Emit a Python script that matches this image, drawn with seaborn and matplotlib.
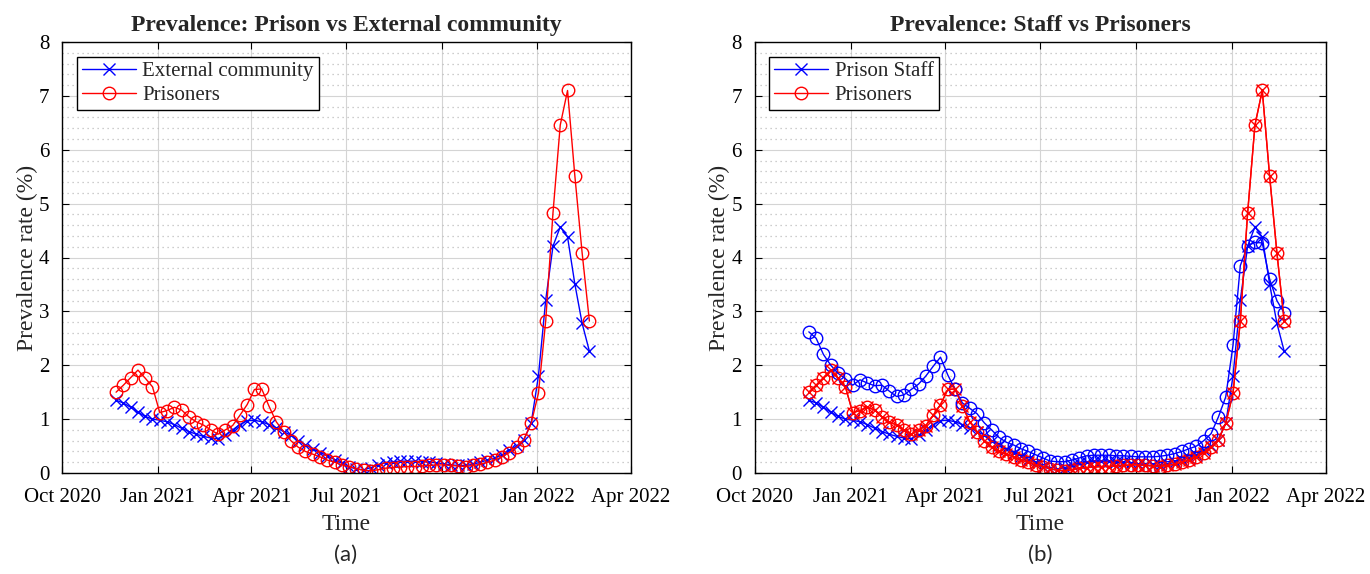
#! /usr/bin/env python3
import pandas as pd
import matplotlib
matplotlib.use("Agg")
import matplotlib.pyplot as plt
import matplotlib.dates as mdates
import seaborn as sns

# weekly samples, 22 Nov 2020 .. 20 Feb 2022
dates = pd.date_range("2020-11-22", periods=66, freq="7D")

external = [1.35, 1.30, 1.22, 1.13, 1.05, 1.00, 0.98, 0.95, 0.90, 0.83,
            0.77, 0.72, 0.68, 0.65, 0.64, 0.70, 0.80, 0.90, 0.97, 0.98,
            0.95, 0.90, 0.84, 0.77, 0.70, 0.60, 0.52, 0.45, 0.38, 0.32,
            0.25, 0.18, 0.12, 0.07, 0.06, 0.10, 0.15, 0.19, 0.21, 0.22,
            0.22, 0.22, 0.21, 0.20, 0.19, 0.17, 0.15, 0.14, 0.14, 0.16,
            0.20, 0.24, 0.28, 0.33, 0.42, 0.50, 0.62, 0.92, 1.80, 3.21,
            4.21, 4.57, 4.38, 3.51, 2.78, 2.26]

prisoners = [1.50, 1.63, 1.77, 1.91, 1.76, 1.60, 1.12, 1.16, 1.22, 1.17,
             1.04, 0.95, 0.89, 0.80, 0.72, 0.80, 0.88, 1.07, 1.27, 1.55,
             1.56, 1.24, 0.95, 0.77, 0.60, 0.48, 0.40, 0.35, 0.30, 0.24,
             0.20, 0.15, 0.12, 0.08, 0.05, 0.04, 0.06, 0.09, 0.10, 0.11,
             0.12, 0.12, 0.13, 0.14, 0.15, 0.15, 0.14, 0.13, 0.12, 0.14,
             0.16, 0.20, 0.24, 0.30, 0.38, 0.48, 0.62, 0.92, 1.48, 2.82,
             4.83, 6.46, 7.10, 5.52, 4.09, 2.82]

staff = [2.62, 2.50, 2.20, 2.00, 1.85, 1.75, 1.63, 1.73, 1.67, 1.62,
         1.63, 1.52, 1.42, 1.45, 1.55, 1.65, 1.80, 1.98, 2.15, 1.82,
         1.55, 1.30, 1.20, 1.10, 0.93, 0.80, 0.66, 0.57, 0.52, 0.45,
         0.40, 0.34, 0.28, 0.22, 0.21, 0.21, 0.24, 0.28, 0.32, 0.33,
         0.33, 0.33, 0.32, 0.32, 0.31, 0.30, 0.30, 0.30, 0.31, 0.33,
         0.36, 0.40, 0.45, 0.50, 0.60, 0.73, 1.04, 1.41, 2.37, 3.85,
         4.22, 4.28, 4.27, 3.60, 3.20, 2.97]

tick_dates = ["2020-10-01", "2021-01-01", "2021-04-01", "2021-07-01",
              "2021-10-01", "2022-01-01", "2022-04-01"]

SERIF = ["Liberation Serif", "DejaVu Serif"]

sns.set_theme(style="ticks")
plt.rcParams["font.family"] = SERIF
plt.rcParams["axes.edgecolor"] = "black"

df = pd.DataFrame({"date": dates, "external": external,
                   "prisoners": prisoners, "staff": staff})

fig = plt.figure(figsize=(13.7, 5.74), dpi=100)
ax_a = fig.add_axes([62 / 1370, 101 / 574, 569 / 1370, 431 / 574])
ax_b = fig.add_axes([754.5 / 1370, 101 / 574, 571.5 / 1370, 431 / 574])

mk = dict(linewidth=1.0, markersize=9, markeredgewidth=1.0)


def draw(ax, col, color, marker, label):
    sns.lineplot(data=df, x="date", y=col, ax=ax, color=color, marker=marker,
                 markerfacecolor="none", markeredgecolor=color, label=label,
                 legend=False, **mk)


# (a)
draw(ax_a, "external", "blue", "x", "External community")
draw(ax_a, "prisoners", "red", "o", "Prisoners")

# (b)
draw(ax_b, "external", "blue", "x", "Prison Staff")
draw(ax_b, "prisoners", "red", "o", "Prisoners")
draw(ax_b, "staff", "blue", "o", "_nolegend_")
draw(ax_b, "prisoners", "red", "x", "_nolegend_")

titles = ["Prevalence: Prison vs External community", "Prevalence: Staff vs Prisoners"]
for ax, title in zip([ax_a, ax_b], titles):
    ax.set_xlim(pd.Timestamp("2020-10-01"), pd.Timestamp("2022-04-01"))
    ax.set_ylim(0, 8)
    ax.set_xticks(pd.to_datetime(tick_dates))
    ax.xaxis.set_major_formatter(mdates.DateFormatter("%b %Y"))
    ax.set_yticks(range(0, 9))
    ax.set_yticks([i * 0.2 for i in range(41)], minor=True)
    ax.grid(True, which="major", color="#d4d4d4", linewidth=0.8)
    ax.grid(True, which="minor", axis="y", color="#bdbdbd", linewidth=0.9,
            linestyle=(0, (1, 3)))
    ax.set_axisbelow(True)
    ax.tick_params(which="major", direction="in", top=True, right=True,
                   length=5, width=0.8, labelsize=15, colors="black")
    ax.tick_params(axis="x", which="major", pad=11)
    ax.tick_params(axis="y", which="major", pad=9)
    ax.tick_params(which="minor", length=0)
    for s in ax.spines.values():
        s.set_linewidth(1.0)
        s.set_color("black")
    ax.set_xlabel("Time", fontsize=17, labelpad=5)
    ax.set_ylabel("Prevalence rate (%)", fontsize=17, labelpad=1)
    ax.set_title(title, fontsize=17, fontweight="bold", pad=8)
    leg = ax.legend(loc="upper left", fontsize=15, fancybox=False, framealpha=1,
                    edgecolor="black", handlelength=2.6, borderaxespad=0.7,
                    borderpad=0.25, labelspacing=0.2, handletextpad=0.3)
    leg.get_frame().set_linewidth(1.0)

fig.text(346 / 1370, 1 - 555 / 574, "(a)", ha="center", va="center",
         fontsize=16, family=["Lato", "DejaVu Sans"])
fig.text(1040 / 1370, 1 - 555 / 574, "(b)", ha="center", va="center",
         fontsize=16, family=["Lato", "DejaVu Sans"])

fig.savefig("out.png", dpi=100)
